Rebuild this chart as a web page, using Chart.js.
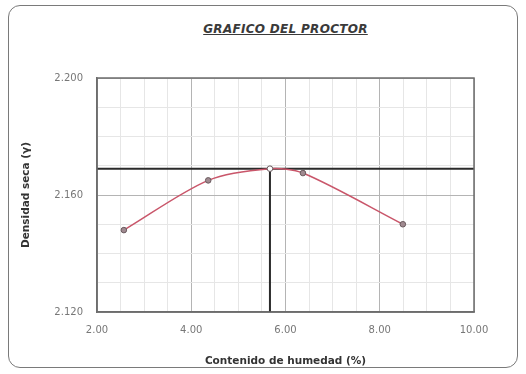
<!DOCTYPE html>
<html>
<head>
<meta charset="utf-8">
<script src="https://cdn.jsdelivr.net/npm/chart.js@4/dist/chart.umd.min.js"></script>
<style>
  html, body { margin: 0; padding: 0; background: #fff; }
  #wrap { position: relative; width: 526px; height: 374px; }
  #frame {
    position: absolute; left: 8px; top: 5px; width: 510px; height: 363px;
    border: 1px solid #7a7a7a; border-radius: 12px; box-sizing: border-box;
  }
  #titulo {
    position: absolute; left: 97px; width: 377px; top: 22px; text-align: center;
    font: italic bold 12px "DejaVu Sans", sans-serif; color: #3a3a3a;
    text-decoration: underline; letter-spacing: 0.3px;
  }
  canvas { position: absolute; left: 0; top: 0; }
</style>
</head>
<body>
<div id="wrap">
  <div id="frame"></div>
  <div id="titulo">GRAFICO DEL PROCTOR</div>
  <canvas id="proctor" width="526" height="374"></canvas>
</div>
<script>
// --- DATA ---
const humedad  = [2.57, 4.36, 5.67, 6.37, 8.49];      // contenido de humedad (%)
const densidad = [2.148, 2.165, 2.169, 2.1675, 2.150]; // densidad seca
const humOptima = 5.67;
const densMax   = 2.169;
const xTicks = [2, 4, 6, 8, 10];
const yTicks = [2.12, 2.16, 2.20];

const FONT = '"DejaVu Sans", sans-serif';

const curva = humedad.map((h, i) => ({ x: h, y: densidad[i] }));
const lineaH = [{ x: xTicks[0], y: densMax }, { x: xTicks[xTicks.length - 1], y: densMax }];
const lineaV = [{ x: humOptima, y: densMax }, { x: humOptima, y: yTicks[0] }];

const isMajorX = v => xTicks.some(t => Math.abs(t - v) < 1e-6);
const isMajorY = v => yTicks.some(t => Math.abs(t - v) < 1e-6);

new Chart(document.getElementById('proctor'), {
    type: 'scatter',
    data: {
        datasets: [
            {
                label: 'lineaH', data: lineaH, showLine: true,
                borderColor: '#2a2a2a', borderWidth: 2, pointRadius: 0, order: 2
            },
            {
                label: 'lineaV', data: lineaV, showLine: true,
                borderColor: '#2a2a2a', borderWidth: 2, pointRadius: 0, order: 2
            },
            {
                label: 'Proctor', data: curva, showLine: true, tension: 0.3,
                borderColor: '#c9566a', borderWidth: 1.5,
                pointRadius: 2.8, pointBorderWidth: 1,
                pointBorderColor: '#6a5a5e',
                pointBackgroundColor: ctx => ctx.dataIndex === 2 ? '#ffffff' : '#a08a90',
                order: 1
            }
        ]
    },
    options: {
        responsive: false,
        animation: false,
        layout: { padding: { top: 78, right: 52, left: 20, bottom: 6 } },
        plugins: { legend: { display: false }, tooltip: { enabled: false } },
        scales: {
            x: {
                type: 'linear', min: 2, max: 10,
                ticks: {
                    stepSize: 0.5, autoSkip: false, maxRotation: 0, minRotation: 0,
                    color: '#777', font: { family: FONT, size: 10 }, padding: 12,
                    callback: v => isMajorX(v) ? v.toFixed(2) : ''
                },
                grid: {
                    color: ctx => (ctx.tick && isMajorX(ctx.tick.value)) ? '#b4b4b4' : '#e6e6e6',
                    drawTicks: false
                },
                border: { color: '#6d6d6d', width: 1.5 },
                title: {
                    display: true, text: 'Contenido de humedad (%)', color: '#333',
                    font: { family: FONT, size: 10.5, weight: 'bold' }, padding: { top: 10, bottom: 0 }
                },
                afterFit: s => { s.height = 56; }
            },
            y: {
                type: 'linear', min: 2.12, max: 2.20,
                ticks: {
                    stepSize: 0.01, autoSkip: false, color: '#777',
                    font: { family: FONT, size: 10 }, padding: 14,
                    callback: v => isMajorY(v) ? v.toFixed(3) : ''
                },
                grid: {
                    color: ctx => (ctx.tick && isMajorY(ctx.tick.value)) ? '#b4b4b4' : '#e6e6e6',
                    drawTicks: false
                },
                border: { color: '#6d6d6d', width: 1.5 },
                title: {
                    display: true, text: 'Densidad seca (γ)', color: '#333',
                    font: { family: FONT, size: 10.5, weight: 'bold' }, padding: { top: 0, bottom: 0 }
                },
                afterFit: s => { s.width = 77; }
            }
        }
    },
    plugins: [{
        // darker frame round the plot area (top and right edges)
        id: 'marco',
        afterDraw(chart) {
            const a = chart.chartArea, c = chart.ctx;
            c.save();
            c.strokeStyle = '#6d6d6d';
            c.lineWidth = 1.5;
            c.strokeRect(a.left, a.top, a.right - a.left, a.bottom - a.top);
            c.restore();
        }
    }]
});
</script>
</body>
</html>
